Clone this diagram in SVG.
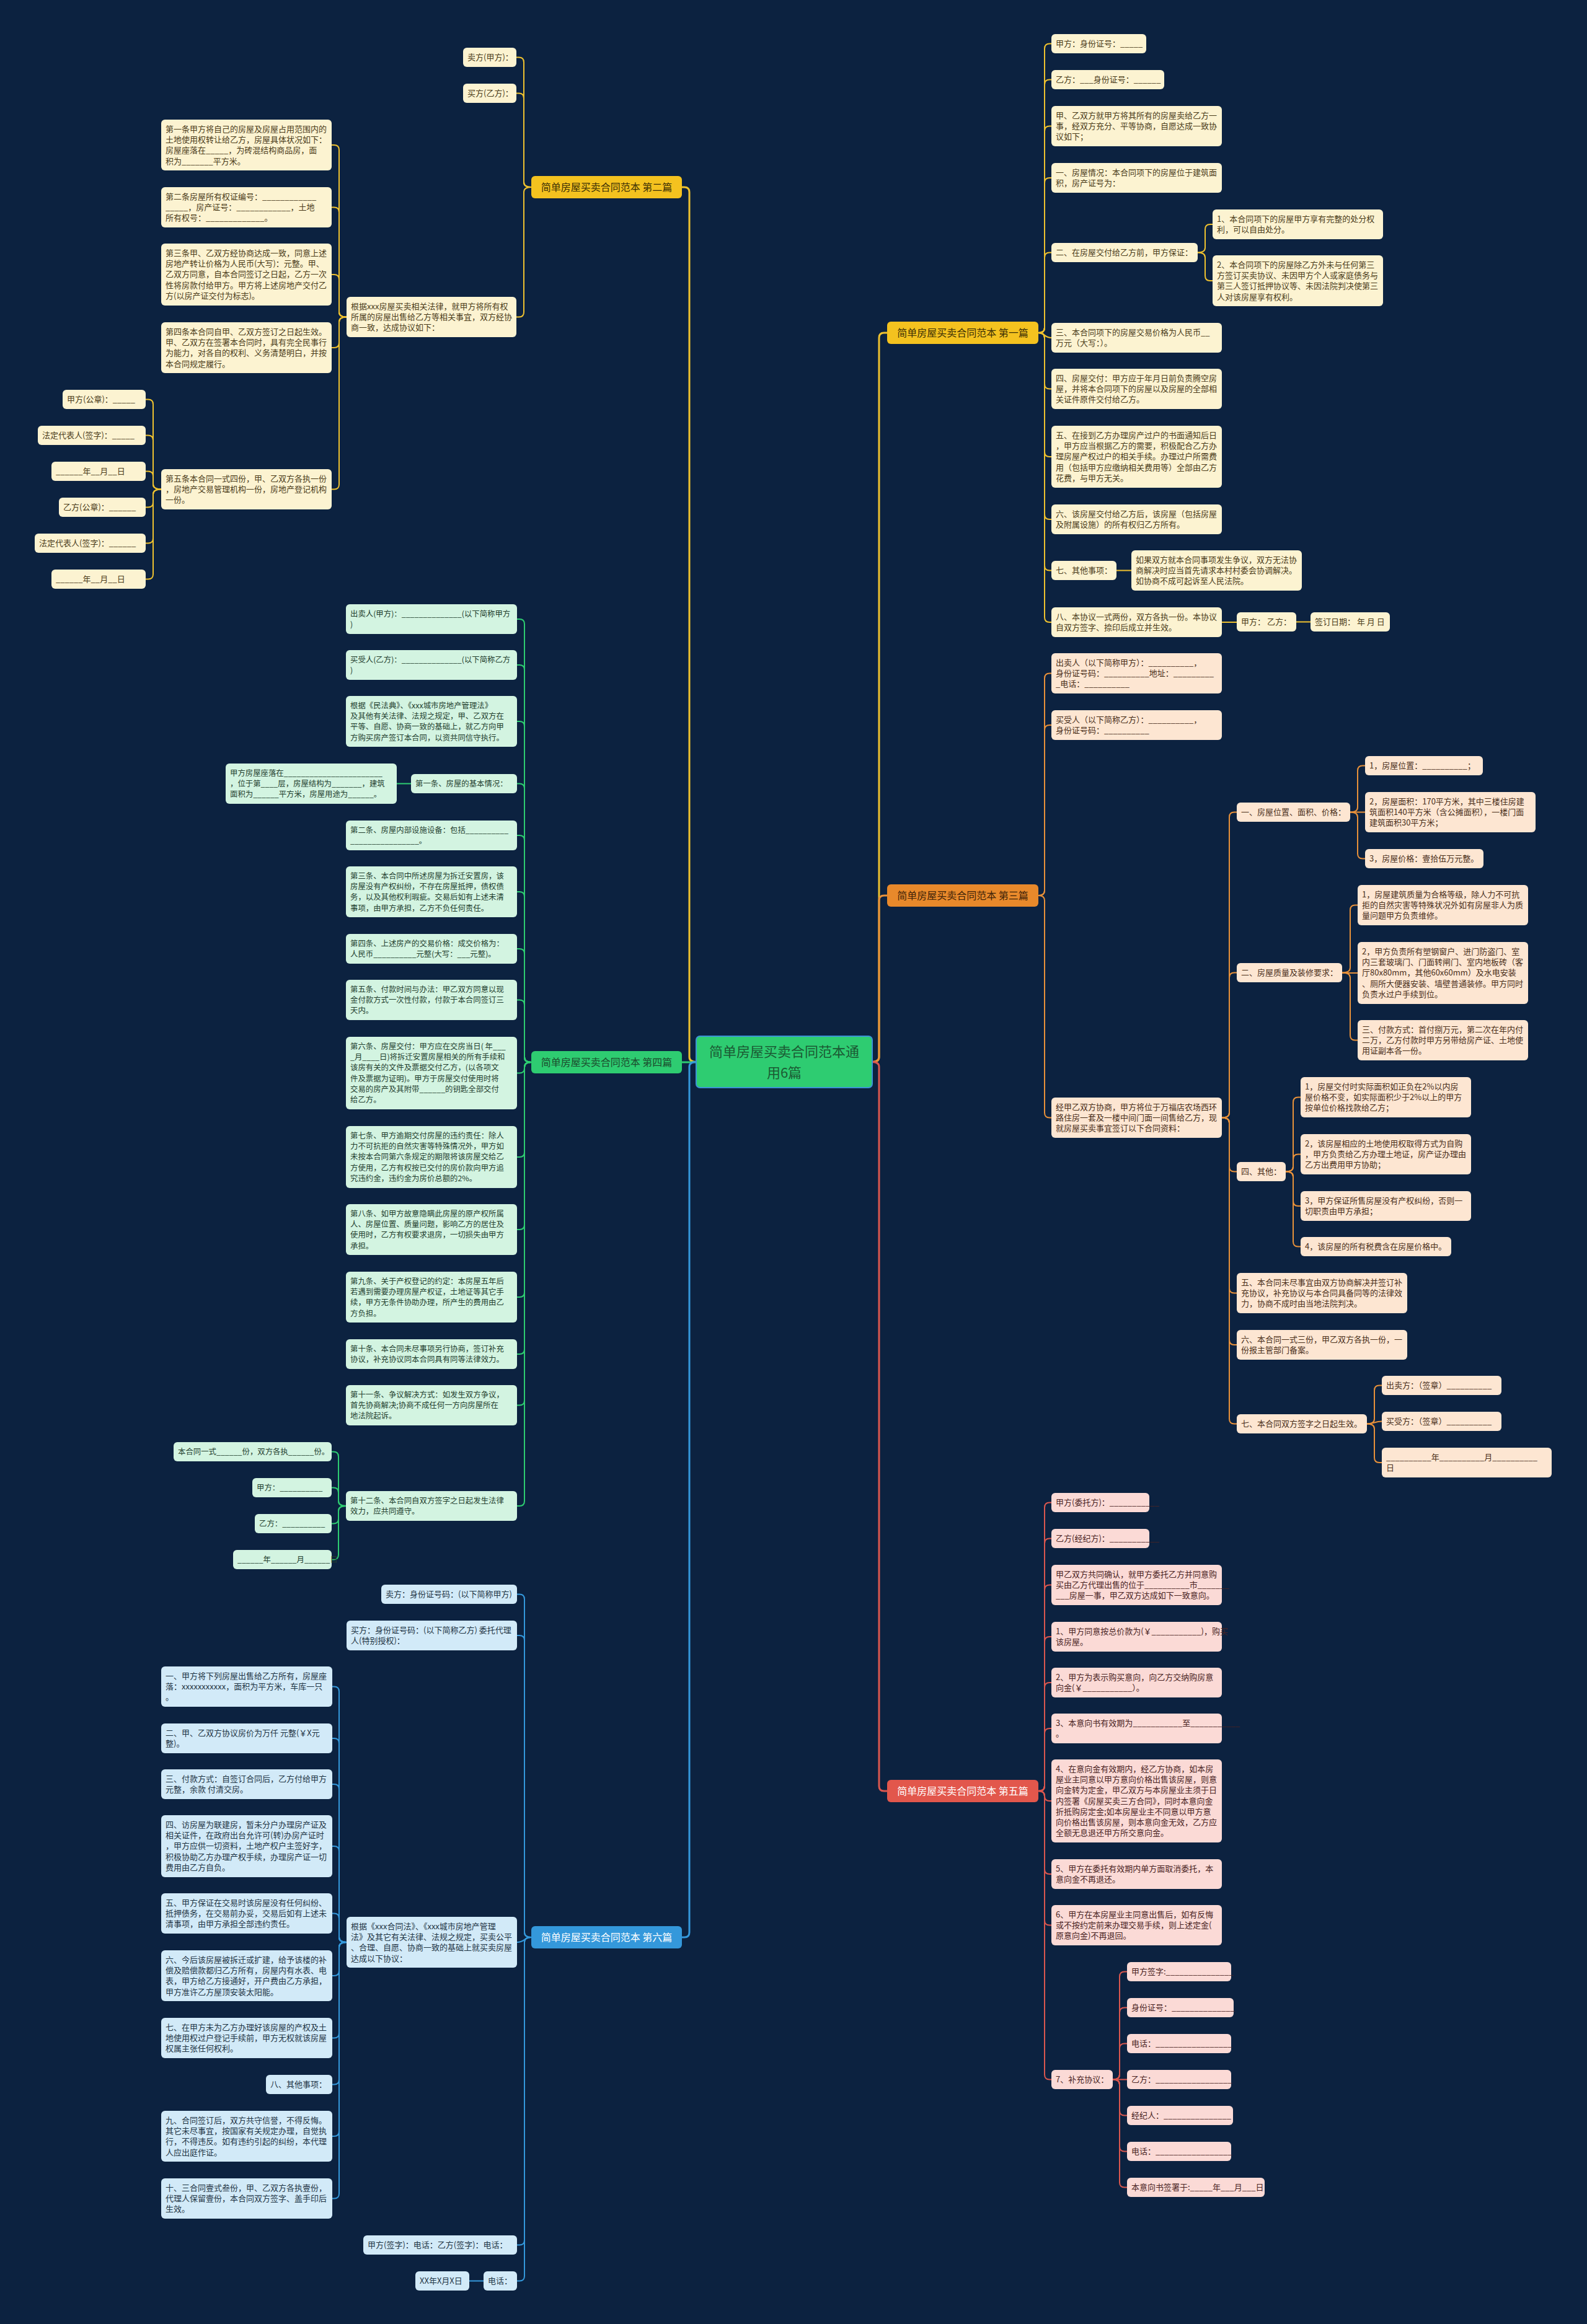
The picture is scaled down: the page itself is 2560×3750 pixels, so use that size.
<svg xmlns="http://www.w3.org/2000/svg" width="2560" height="3750" viewBox="0 0 2560 3750">
<style>
text{font-family:"Noto Sans CJK SC","Noto Sans",sans-serif;font-size:13px}
rect{rx:6px;ry:6px}
.y rect{fill:#fcf3d1}.y text{fill:#4b3c1a}
.o rect{fill:#fde6d2}.o text{fill:#4a2f1a}
.g rect{fill:#d3f4e1}.g text{fill:#24402f;font-size:12.4px}
.r rect{fill:#fbdad6}.r text{fill:#4a2424}
.b rect{fill:#d2eaf8}.b text{fill:#1f3545}
.br text{font-size:16px;text-anchor:middle}
#root text{font-size:22px;text-anchor:middle;fill:#1b5a33}
.c path{fill:none;stroke-width:2}
.c .m{stroke-width:3}
.cy{stroke:#eec12f}.co{stroke:#e8913a}.cg{stroke:#2ecc71}.cr{stroke:#d9574f}.cb{stroke:#3498db}
</style>
<rect x="0" y="0" width="2560" height="3750" fill="#0c2240" style="rx:0;ry:0"/>

<g id="connectors" class="c">
<path class="m cy" d="M1123 1713.5 Q1112 1713.5 1112 1705.5 V310 Q1112 302 1104 302 H1100"/>
<path class="m cg" d="M1123 1714 H1100"/>
<path class="m cb" d="M1123 1713.5 Q1112 1713.5 1112 1721.5 V3118 Q1112 3126 1104 3126 H1100"/>
<path class="m cy" d="M1407 1713.5 Q1418 1713.5 1418 1705.5 V545 Q1418 537 1426 537 H1431"/>
<path class="m co" d="M1407 1713.5 Q1418 1713.5 1418 1705.5 V1453 Q1418 1445 1426 1445 H1431"/>
<path class="m cr" d="M1407 1713.5 Q1418 1713.5 1418 1721.5 V2882 Q1418 2890 1426 2890 H1431"/>
<path class="cy" d="M1675 537 Q1685 537 1685 529 V78.5 Q1685 70.5 1693 70.5 H1696"/>
<path class="cy" d="M1675 537 Q1685 537 1685 529 V136.5 Q1685 128.5 1693 128.5 H1696"/>
<path class="cy" d="M1675 537 Q1685 537 1685 529 V211.5 Q1685 203.5 1693 203.5 H1696"/>
<path class="cy" d="M1675 537 Q1685 537 1685 529 V295 Q1685 287 1693 287 H1696"/>
<path class="cy" d="M1675 537 Q1685 537 1685 529 V415.5 Q1685 407.5 1693 407.5 H1696"/>
<path class="cy" d="M1675 537 C1685 537 1685 545 1696 545"/>
<path class="cy" d="M1675 537 Q1685 537 1685 545 V619.5 Q1685 627.5 1693 627.5 H1696"/>
<path class="cy" d="M1675 537 Q1685 537 1685 545 V729 Q1685 737 1693 737 H1696"/>
<path class="cy" d="M1675 537 Q1685 537 1685 545 V830 Q1685 838 1693 838 H1696"/>
<path class="cy" d="M1675 537 Q1685 537 1685 545 V912.5 Q1685 920.5 1693 920.5 H1696"/>
<path class="cy" d="M1675 537 Q1685 537 1685 545 V996 Q1685 1004 1693 1004 H1696"/>
<path class="cy" d="M1932 407.5 Q1944 407.5 1944 399.5 V370 Q1944 362 1952 362 H1956"/>
<path class="cy" d="M1932 407.5 Q1944 407.5 1944 415.5 V445 Q1944 453 1952 453 H1956"/>
<path class="cy" d="M1801 920.5 H1825"/>
<path class="cy" d="M1971 1004 H1995"/>
<path class="cy" d="M2091 1003.5 H2114"/>
<path class="cy" d="M857 302 Q845 302 845 294 V100.5 Q845 92.5 837 92.5 H833"/>
<path class="cy" d="M857 302 Q845 302 845 294 V158.5 Q845 150.5 837 150.5 H833"/>
<path class="cy" d="M857 302 Q845 302 845 310 V503.5 Q845 511.5 837 511.5 H833"/>
<path class="cy" d="M559 511.5 Q547 511.5 547 503.5 V242 Q547 234 539 234 H535"/>
<path class="cy" d="M559 511.5 Q547 511.5 547 503.5 V342.5 Q547 334.5 539 334.5 H535"/>
<path class="cy" d="M559 511.5 Q547 511.5 547 503.5 V451 Q547 443 539 443 H535"/>
<path class="cy" d="M559 511.5 Q547 511.5 547 519.5 V553 Q547 561 539 561 H535"/>
<path class="cy" d="M559 511.5 Q547 511.5 547 519.5 V781.5 Q547 789.5 539 789.5 H535"/>
<path class="cy" d="M260 789.5 Q247 789.5 247 781.5 V652.5 Q247 644.5 239 644.5 H235"/>
<path class="cy" d="M260 789.5 Q247 789.5 247 781.5 V710.5 Q247 702.5 239 702.5 H235"/>
<path class="cy" d="M260 789.5 Q247 789.5 247 781.5 V768.5 Q247 760.5 239 760.5 H235"/>
<path class="cy" d="M260 789.5 Q247 789.5 247 797.5 V810.5 Q247 818.5 239 818.5 H235"/>
<path class="cy" d="M260 789.5 Q247 789.5 247 797.5 V868.5 Q247 876.5 239 876.5 H235"/>
<path class="cy" d="M260 789.5 Q247 789.5 247 797.5 V926.5 Q247 934.5 239 934.5 H235"/>
<path class="co" d="M1675 1445 Q1685 1445 1685 1437 V1094.5 Q1685 1086.5 1693 1086.5 H1696"/>
<path class="co" d="M1675 1445 Q1685 1445 1685 1437 V1178 Q1685 1170 1693 1170 H1696"/>
<path class="co" d="M1675 1445 Q1685 1445 1685 1453 V1795.5 Q1685 1803.5 1693 1803.5 H1696"/>
<path class="co" d="M1971 1803.5 Q1983 1803.5 1983 1795.5 V1318.5 Q1983 1310.5 1991 1310.5 H1995"/>
<path class="co" d="M1971 1803.5 Q1983 1803.5 1983 1795.5 V1577.5 Q1983 1569.5 1991 1569.5 H1995"/>
<path class="co" d="M1971 1803.5 Q1983 1803.5 1983 1811.5 V1882.5 Q1983 1890.5 1991 1890.5 H1995"/>
<path class="co" d="M1971 1803.5 Q1983 1803.5 1983 1811.5 V2078.5 Q1983 2086.5 1991 2086.5 H1995"/>
<path class="co" d="M1971 1803.5 Q1983 1803.5 1983 1811.5 V2162 Q1983 2170 1991 2170 H1995"/>
<path class="co" d="M1971 1803.5 Q1983 1803.5 1983 1811.5 V2289.5 Q1983 2297.5 1991 2297.5 H1995"/>
<path class="co" d="M2178 1310.5 Q2190 1310.5 2190 1302.5 V1243.5 Q2190 1235.5 2198 1235.5 H2202"/>
<path class="co" d="M2178 1310.5 H2202"/>
<path class="co" d="M2178 1310.5 Q2190 1310.5 2190 1318.5 V1377.5 Q2190 1385.5 2198 1385.5 H2202"/>
<path class="co" d="M2165 1569.5 Q2178 1569.5 2178 1561.5 V1468.5 Q2178 1460.5 2186 1460.5 H2190"/>
<path class="co" d="M2165 1570 H2190"/>
<path class="co" d="M2165 1569.5 Q2178 1569.5 2178 1577.5 V1670.5 Q2178 1678.5 2186 1678.5 H2190"/>
<path class="co" d="M2074 1890.5 Q2086 1890.5 2086 1882.5 V1778.5 Q2086 1770.5 2094 1770.5 H2098"/>
<path class="co" d="M2074 1890.5 Q2086 1890.5 2086 1882.5 V1870.5 Q2086 1862.5 2094 1862.5 H2098"/>
<path class="co" d="M2074 1890.5 Q2086 1890.5 2086 1898.5 V1938 Q2086 1946 2094 1946 H2098"/>
<path class="co" d="M2074 1890.5 Q2086 1890.5 2086 1898.5 V2003.5 Q2086 2011.5 2094 2011.5 H2098"/>
<path class="co" d="M2205 2297.5 Q2217 2297.5 2217 2289.5 V2243.5 Q2217 2235.5 2225 2235.5 H2229"/>
<path class="co" d="M2205 2297.5 C2217 2297.5 2217 2293.5 2229 2293.5"/>
<path class="co" d="M2205 2297.5 Q2217 2297.5 2217 2305.5 V2352 Q2217 2360 2225 2360 H2229"/>
<path class="cg" d="M857 1714 Q846 1714 846 1706 V1007 Q846 999 838 999 H834"/>
<path class="cg" d="M857 1714 Q846 1714 846 1706 V1081 Q846 1073 838 1073 H834"/>
<path class="cg" d="M857 1714 Q846 1714 846 1706 V1172 Q846 1164 838 1164 H834"/>
<path class="cg" d="M857 1714 Q846 1714 846 1706 V1272.5 Q846 1264.5 838 1264.5 H834"/>
<path class="cg" d="M857 1714 Q846 1714 846 1706 V1356 Q846 1348 838 1348 H834"/>
<path class="cg" d="M857 1714 Q846 1714 846 1706 V1447 Q846 1439 838 1439 H834"/>
<path class="cg" d="M857 1714 Q846 1714 846 1706 V1539 Q846 1531 838 1531 H834"/>
<path class="cg" d="M857 1714 Q846 1714 846 1706 V1621.5 Q846 1613.5 838 1613.5 H834"/>
<path class="cg" d="M857 1714 Q846 1714 846 1722 V1723.5 Q846 1731.5 838 1731.5 H834"/>
<path class="cg" d="M857 1714 Q846 1714 846 1722 V1859 Q846 1867 838 1867 H834"/>
<path class="cg" d="M857 1714 Q846 1714 846 1722 V1976 Q846 1984 838 1984 H834"/>
<path class="cg" d="M857 1714 Q846 1714 846 1722 V2085 Q846 2093 838 2093 H834"/>
<path class="cg" d="M857 1714 Q846 1714 846 1722 V2177 Q846 2185 838 2185 H834"/>
<path class="cg" d="M857 1714 Q846 1714 846 1722 V2259.5 Q846 2267.5 838 2267.5 H834"/>
<path class="cg" d="M857 1714 Q846 1714 846 1722 V2422 Q846 2430 838 2430 H834"/>
<path class="cg" d="M663 1264.5 H640"/>
<path class="cg" d="M558 2430 Q546 2430 546 2422 V2350.5 Q546 2342.5 538 2342.5 H535"/>
<path class="cg" d="M558 2430 Q546 2430 546 2422 V2408.5 Q546 2400.5 538 2400.5 H535"/>
<path class="cg" d="M558 2430 Q546 2430 546 2438 V2450.5 Q546 2458.5 538 2458.5 H535"/>
<path class="cg" d="M558 2430 Q546 2430 546 2438 V2508.5 Q546 2516.5 538 2516.5 H535"/>
<path class="cr" d="M1675 2890 Q1685 2890 1685 2882 V2432.5 Q1685 2424.5 1693 2424.5 H1696"/>
<path class="cr" d="M1675 2890 Q1685 2890 1685 2882 V2490.5 Q1685 2482.5 1693 2482.5 H1696"/>
<path class="cr" d="M1675 2890 Q1685 2890 1685 2882 V2565.5 Q1685 2557.5 1693 2557.5 H1696"/>
<path class="cr" d="M1675 2890 Q1685 2890 1685 2882 V2649 Q1685 2641 1693 2641 H1696"/>
<path class="cr" d="M1675 2890 Q1685 2890 1685 2882 V2723 Q1685 2715 1693 2715 H1696"/>
<path class="cr" d="M1675 2890 Q1685 2890 1685 2882 V2797 Q1685 2789 1693 2789 H1696"/>
<path class="cr" d="M1675 2890 Q1685 2890 1685 2898 Q1685 2906 1693 2906 H1696"/>
<path class="cr" d="M1675 2890 Q1685 2890 1685 2898 V3016 Q1685 3024 1693 3024 H1696"/>
<path class="cr" d="M1675 2890 Q1685 2890 1685 2898 V3098.5 Q1685 3106.5 1693 3106.5 H1696"/>
<path class="cr" d="M1675 2890 Q1685 2890 1685 2898 V3347.5 Q1685 3355.5 1693 3355.5 H1696"/>
<path class="cr" d="M1795 3355.5 Q1806 3355.5 1806 3347.5 V3189.5 Q1806 3181.5 1814 3181.5 H1818"/>
<path class="cr" d="M1795 3355.5 Q1806 3355.5 1806 3347.5 V3247.5 Q1806 3239.5 1814 3239.5 H1818"/>
<path class="cr" d="M1795 3355.5 Q1806 3355.5 1806 3347.5 V3305.5 Q1806 3297.5 1814 3297.5 H1818"/>
<path class="cr" d="M1795 3355.5 H1818"/>
<path class="cr" d="M1795 3355.5 Q1806 3355.5 1806 3363.5 V3405.5 Q1806 3413.5 1814 3413.5 H1818"/>
<path class="cr" d="M1795 3355.5 Q1806 3355.5 1806 3363.5 V3463.5 Q1806 3471.5 1814 3471.5 H1818"/>
<path class="cr" d="M1795 3355.5 Q1806 3355.5 1806 3363.5 V3521.5 Q1806 3529.5 1814 3529.5 H1818"/>
<path class="cb" d="M857 3126 Q846 3126 846 3118 V2580.5 Q846 2572.5 838 2572.5 H834"/>
<path class="cb" d="M857 3126 Q846 3126 846 3118 V2647 Q846 2639 838 2639 H834"/>
<path class="cb" d="M857 3126 C846 3126 846 3134 834 3134"/>
<path class="cb" d="M857 3126 Q846 3126 846 3134 V3614.5 Q846 3622.5 838 3622.5 H834"/>
<path class="cb" d="M857 3126 Q846 3126 846 3134 V3672.5 Q846 3680.5 838 3680.5 H834"/>
<path class="cb" d="M559 3134 Q547 3134 547 3126 V2729.5 Q547 2721.5 539 2721.5 H536"/>
<path class="cb" d="M559 3134 Q547 3134 547 3126 V2813 Q547 2805 539 2805 H536"/>
<path class="cb" d="M559 3134 Q547 3134 547 3126 V2887 Q547 2879 539 2879 H536"/>
<path class="cb" d="M559 3134 Q547 3134 547 3126 V2987 Q547 2979 539 2979 H536"/>
<path class="cb" d="M559 3134 Q547 3134 547 3126 V3095.5 Q547 3087.5 539 3087.5 H536"/>
<path class="cb" d="M559 3134 Q547 3134 547 3142 V3180 Q547 3188 539 3188 H536"/>
<path class="cb" d="M559 3134 Q547 3134 547 3142 V3280.5 Q547 3288.5 539 3288.5 H536"/>
<path class="cb" d="M559 3134 Q547 3134 547 3142 V3355.5 Q547 3363.5 539 3363.5 H536"/>
<path class="cb" d="M559 3134 Q547 3134 547 3142 V3439 Q547 3447 539 3447 H536"/>
<path class="cb" d="M559 3134 Q547 3134 547 3142 V3539.5 Q547 3547.5 539 3547.5 H536"/>
<path class="cb" d="M780 3680.5 H757"/>
</g>

<g id="root">
<rect x="1123" y="1672" width="284" height="83" fill="#2ecc71" stroke="#3b94d6" stroke-width="2"/>
<text x="1265" y="1705">简单房屋买卖合同范本通</text>
<text x="1265" y="1739">用6篇</text>
</g>

<g id="b1" class="br"><rect x="1431" y="519" width="244" height="36" fill="#f4c21f"/><text x="1553" y="543" fill="#3b2f05">简单房屋买卖合同范本 第一篇</text></g>
<g id="b2" class="br"><rect x="857" y="284" width="243" height="36" fill="#f4c21f"/><text x="978.5" y="308" fill="#3b2f05">简单房屋买卖合同范本 第二篇</text></g>
<g id="b3" class="br"><rect x="1431" y="1427" width="244" height="36" fill="#e8892b"/><text x="1553" y="1451" fill="#3d2208">简单房屋买卖合同范本 第三篇</text></g>
<g id="b4" class="br"><rect x="857" y="1696" width="243" height="36" fill="#2ecc71"/><text x="978.5" y="1720" fill="#1b4a2c">简单房屋买卖合同范本 第四篇</text></g>
<g id="b5" class="br"><rect x="1431" y="2872" width="244" height="36" fill="#e2574c"/><text x="1553" y="2896" fill="#ffffff">简单房屋买卖合同范本 第五篇</text></g>
<g id="b6" class="br"><rect x="857" y="3108" width="243" height="36" fill="#3498db"/><text x="978.5" y="3132" fill="#ffffff">简单房屋买卖合同范本 第六篇</text></g>

<g id="n1-1" class="y"><rect x="1696" y="55" width="153" height="31"/><text x="1703" y="75">甲方：身份证号：_____</text></g>
<g id="n1-2" class="y"><rect x="1696" y="113" width="182" height="31"/><text x="1703" y="133">乙方：___身份证号：______</text></g>
<g id="n1-3" class="y"><rect x="1696" y="171" width="275" height="65"/><text x="1703" y="191">甲、乙双方就甲方将其所有的房屋卖给乙方一</text><text x="1703" y="208">事，经双方充分、平等协商，自愿达成一致协</text><text x="1703" y="225">议如下；</text></g>
<g id="n1-4" class="y"><rect x="1696" y="263" width="275" height="48"/><text x="1703" y="283">一、房屋情况：本合同项下的房屋位于建筑面</text><text x="1703" y="300">积，房产证号为：</text></g>
<g id="n1-5" class="y"><rect x="1696" y="392" width="236" height="31"/><text x="1703" y="412">二、在房屋交付给乙方前，甲方保证：</text></g>
<g id="n1-5-1" class="y"><rect x="1956" y="338" width="275" height="48"/><text x="1963" y="358">1、本合同项下的房屋甲方享有完整的处分权</text><text x="1963" y="375">利，可以自由处分。</text></g>
<g id="n1-5-2" class="y"><rect x="1956" y="412" width="275" height="82"/><text x="1963" y="432">2、本合同项下的房屋除乙方外未与任何第三</text><text x="1963" y="449">方签订买卖协议、未因甲方个人或家庭债务与</text><text x="1963" y="466">第三人签订抵押协议等、未因法院判决使第三</text><text x="1963" y="484">人对该房屋享有权利。</text></g>
<g id="n1-6" class="y"><rect x="1696" y="521" width="275" height="48"/><text x="1703" y="541">三、本合同项下的房屋交易价格为人民币__</text><text x="1703" y="558">万元（大写：）。</text></g>
<g id="n1-7" class="y"><rect x="1696" y="595" width="275" height="65"/><text x="1703" y="615">四、房屋交付：甲方应于年月日前负责腾空房</text><text x="1703" y="632">屋，并将本合同项下的房屋以及房屋的全部相</text><text x="1703" y="649">关证件原件交付给乙方。</text></g>
<g id="n1-8" class="y"><rect x="1696" y="687" width="275" height="100"/><text x="1703" y="707">五、在接到乙方办理房产过户的书面通知后日</text><text x="1703" y="724">，甲方应当根据乙方的需要，积极配合乙方办</text><text x="1703" y="741">理房屋产权过户的相关手续。办理过户所需费</text><text x="1703" y="759">用（包括甲方应缴纳相关费用等）全部由乙方</text><text x="1703" y="776">花费，与甲方无关。</text></g>
<g id="n1-9" class="y"><rect x="1696" y="814" width="275" height="48"/><text x="1703" y="834">六、该房屋交付给乙方后，该房屋（包括房屋</text><text x="1703" y="851">及附属设施）的所有权归乙方所有。</text></g>
<g id="n1-10" class="y"><rect x="1696" y="905" width="105" height="31"/><text x="1703" y="925">七、其他事项：</text></g>
<g id="n1-10-1" class="y"><rect x="1825" y="888" width="275" height="65"/><text x="1832" y="908">如果双方就本合同事项发生争议，双方无法协</text><text x="1832" y="925">商解决时应当首先请求本村村委会协调解决。</text><text x="1832" y="942">如协商不成可起诉至人民法院。</text></g>
<g id="n1-11" class="y"><rect x="1696" y="980" width="275" height="48"/><text x="1703" y="1000">八、本协议一式两份，双方各执一份。本协议</text><text x="1703" y="1017">自双方签字、捺印后成立并生效。</text></g>
<g id="n1-11-1" class="y"><rect x="1995" y="988" width="96" height="31"/><text x="2002" y="1008">甲方： 乙方：</text></g>
<g id="n1-11-2" class="y"><rect x="2114" y="988" width="128" height="31"/><text x="2121" y="1008">签订日期： 年 月 日</text></g>

<g id="n2-1" class="y"><rect x="747" y="77" width="86" height="31"/><text x="754" y="97">卖方(甲方)：</text></g>
<g id="n2-2" class="y"><rect x="747" y="135" width="86" height="31"/><text x="754" y="155">买方(乙方)：</text></g>
<g id="n2-3" class="y"><rect x="559" y="479" width="274" height="65"/><text x="566" y="499">根据xxx房屋买卖相关法律，就甲方将所有权</text><text x="566" y="516">所属的房屋出售给乙方等相关事宜，双方经协</text><text x="566" y="533">商一致，达成协议如下：</text></g>
<g id="n2-3-1" class="y"><rect x="260" y="193" width="275" height="82"/><text x="267" y="213">第一条甲方将自己的房屋及房屋占用范围内的</text><text x="267" y="230">土地使用权转让给乙方，房屋具体状况如下：</text><text x="267" y="247">房屋座落在_____，为砖混结构商品房，面</text><text x="267" y="265">积为_______平方米。</text></g>
<g id="n2-3-2" class="y"><rect x="260" y="302" width="275" height="65"/><text x="267" y="322">第二条房屋所有权证编号：____________</text><text x="267" y="339">_____，房产证号：____________，土地</text><text x="267" y="356">所有权号：_____________。</text></g>
<g id="n2-3-3" class="y"><rect x="260" y="393" width="275" height="100"/><text x="267" y="413">第三条甲、乙双方经协商达成一致，同意上述</text><text x="267" y="430">房地产转让价格为人民币(大写)：元整。甲、</text><text x="267" y="447">乙双方同意，自本合同签订之日起，乙方一次</text><text x="267" y="465">性将房款付给甲方。甲方将上述房地产交付乙</text><text x="267" y="482">方(以房产证交付为标志)。</text></g>
<g id="n2-3-4" class="y"><rect x="260" y="520" width="275" height="82"/><text x="267" y="540">第四条本合同自甲、乙双方签订之日起生效。</text><text x="267" y="557">甲、乙双方在签署本合同时，具有完全民事行</text><text x="267" y="574">为能力，对各自的权利、义务清楚明白，并按</text><text x="267" y="592">本合同规定履行。</text></g>
<g id="n2-3-5" class="y"><rect x="260" y="757" width="275" height="65"/><text x="267" y="777">第五条本合同一式四份，甲、乙双方各执一份</text><text x="267" y="794">，房地产交易管理机构一份，房地产登记机构</text><text x="267" y="811">一份。</text></g>
<g id="n2-3-5-1" class="y"><rect x="101" y="629" width="134" height="31"/><text x="108" y="649">甲方(公章)：_____</text></g>
<g id="n2-3-5-2" class="y"><rect x="61" y="687" width="174" height="31"/><text x="68" y="707">法定代表人(签字)：_____</text></g>
<g id="n2-3-5-3" class="y"><rect x="83" y="745" width="152" height="31"/><text x="90" y="765">______年__月__日</text></g>
<g id="n2-3-5-4" class="y"><rect x="95" y="803" width="140" height="31"/><text x="102" y="823">乙方(公章)：______</text></g>
<g id="n2-3-5-5" class="y"><rect x="56" y="861" width="179" height="31"/><text x="63" y="881">法定代表人(签字)：______</text></g>
<g id="n2-3-5-6" class="y"><rect x="83" y="919" width="152" height="31"/><text x="90" y="939">______年__月__日</text></g>

<g id="n3-1" class="o"><rect x="1696" y="1054" width="275" height="65"/><text x="1703" y="1074">出卖人（以下简称甲方）：__________，</text><text x="1703" y="1091">身份证号码：__________地址：_________</text><text x="1703" y="1108">_电话：__________</text></g>
<g id="n3-2" class="o"><rect x="1696" y="1146" width="275" height="48"/><text x="1703" y="1166">买受人（以下简称乙方）：__________，</text><text x="1703" y="1183">身份证号码：__________</text></g>
<g id="n3-3" class="o"><rect x="1696" y="1771" width="275" height="65"/><text x="1703" y="1791">经甲乙双方协商，甲方将位于万福店农场西环</text><text x="1703" y="1808">路住房一套及一楼中间门面一间售给乙方，现</text><text x="1703" y="1825">就房屋买卖事宜签订以下合同资料：</text></g>
<g id="n3-3-1" class="o"><rect x="1995" y="1295" width="183" height="31"/><text x="2002" y="1315">一、房屋位置、面积、价格：</text></g>
<g id="n3-3-1-1" class="o"><rect x="2202" y="1220" width="190" height="31"/><text x="2209" y="1240">1，房屋位置：__________；</text></g>
<g id="n3-3-1-2" class="o"><rect x="2202" y="1278" width="275" height="65"/><text x="2209" y="1298">2，房屋面积：170平方米，其中三楼住房建</text><text x="2209" y="1315">筑面积140平方米（含公摊面积），一楼门面</text><text x="2209" y="1332">建筑面积30平方米；</text></g>
<g id="n3-3-1-3" class="o"><rect x="2202" y="1370" width="191" height="31"/><text x="2209" y="1390">3，房屋价格：壹拾伍万元整。</text></g>
<g id="n3-3-2" class="o"><rect x="1995" y="1554" width="170" height="31"/><text x="2002" y="1574">二、房屋质量及装修要求：</text></g>
<g id="n3-3-2-1" class="o"><rect x="2190" y="1428" width="275" height="65"/><text x="2197" y="1448">1，房屋建筑质量为合格等级，除人力不可抗</text><text x="2197" y="1465">拒的自然灾害等特殊状况外如有房屋非人为质</text><text x="2197" y="1482">量问题甲方负责维修。</text></g>
<g id="n3-3-2-2" class="o"><rect x="2190" y="1520" width="275" height="100"/><text x="2197" y="1540">2，甲方负责所有塑钢窗户、进门防盗门、室</text><text x="2197" y="1557">内三套玻璃门、门面转闸门、室内地板砖（客</text><text x="2197" y="1574">厅80x80mm，其他60x60mm）及水电安装</text><text x="2197" y="1592">、厕所大便器安装、墙壁普通装修。甲方同时</text><text x="2197" y="1609">负责水过户手续到位。</text></g>
<g id="n3-3-2-3" class="o"><rect x="2190" y="1646" width="275" height="65"/><text x="2197" y="1666">三、付款方式：首付捌万元，第二次在年内付</text><text x="2197" y="1683">二万，乙方付款时甲方另带给房产证、土地使</text><text x="2197" y="1700">用证副本各一份。</text></g>
<g id="n3-3-3" class="o"><rect x="1995" y="1875" width="79" height="31"/><text x="2002" y="1895">四、其他：</text></g>
<g id="n3-3-3-1" class="o"><rect x="2098" y="1738" width="275" height="65"/><text x="2105" y="1758">1，房屋交付时实际面积如正负在2%以内房</text><text x="2105" y="1775">屋价格不变，如实际面积少于2%以上的甲方</text><text x="2105" y="1792">按单位价格找款给乙方；</text></g>
<g id="n3-3-3-2" class="o"><rect x="2098" y="1830" width="275" height="65"/><text x="2105" y="1850">2，该房屋相应的土地使用权取得方式为自购</text><text x="2105" y="1867">，甲方负责给乙方办理土地证，房产证办理由</text><text x="2105" y="1884">乙方出费用甲方协助；</text></g>
<g id="n3-3-3-3" class="o"><rect x="2098" y="1922" width="275" height="48"/><text x="2105" y="1942">3，甲方保证所售房屋没有产权纠纷，否则一</text><text x="2105" y="1959">切职责由甲方承担；</text></g>
<g id="n3-3-3-4" class="o"><rect x="2098" y="1996" width="243" height="31"/><text x="2105" y="2016">4，该房屋的所有税费含在房屋价格中。</text></g>
<g id="n3-3-4" class="o"><rect x="1995" y="2054" width="275" height="65"/><text x="2002" y="2074">五、本合同未尽事宜由双方协商解决并签订补</text><text x="2002" y="2091">充协议，补充协议与本合同具备同等的法律效</text><text x="2002" y="2108">力，协商不成时由当地法院判决。</text></g>
<g id="n3-3-5" class="o"><rect x="1995" y="2146" width="275" height="48"/><text x="2002" y="2166">六、本合同一式三份，甲乙双方各执一份，一</text><text x="2002" y="2183">份报主管部门备案。</text></g>
<g id="n3-3-6" class="o"><rect x="1995" y="2282" width="210" height="31"/><text x="2002" y="2302">七、本合同双方签字之日起生效。</text></g>
<g id="n3-3-6-1" class="o"><rect x="2229" y="2220" width="193" height="31"/><text x="2236" y="2240">出卖方：（签章）__________</text></g>
<g id="n3-3-6-2" class="o"><rect x="2229" y="2278" width="193" height="31"/><text x="2236" y="2298">买受方：（签章）__________</text></g>
<g id="n3-3-6-3" class="o"><rect x="2229" y="2336" width="274" height="48"/><text x="2236" y="2356">__________年__________月__________</text><text x="2236" y="2373">日</text></g>

<g id="n4-1" class="g"><rect x="558" y="975" width="276" height="48"/><text x="565" y="995">出卖人(甲方)：______________(以下简称甲方</text><text x="565" y="1012">)</text></g>
<g id="n4-2" class="g"><rect x="558" y="1049" width="276" height="48"/><text x="565" y="1069">买受人(乙方)：______________(以下简称乙方</text><text x="565" y="1086">)</text></g>
<g id="n4-3" class="g"><rect x="558" y="1123" width="276" height="82"/><text x="565" y="1143">根据《民法典》、《xxx城市房地产管理法》</text><text x="565" y="1160">及其他有关法律、法规之规定，甲、乙双方在</text><text x="565" y="1177">平等、自愿、协商一致的基础上，就乙方向甲</text><text x="565" y="1195">方购买房产签订本合同，以资共同信守执行。</text></g>
<g id="n4-4" class="g"><rect x="663" y="1249" width="171" height="31"/><text x="670" y="1269">第一条、房屋的基本情况：</text></g>
<g id="n4-4-1" class="g"><rect x="364" y="1232" width="276" height="65"/><text x="371" y="1252">甲方房屋座落在_______________________</text><text x="371" y="1269">，位于第____层，房屋结构为_______，建筑</text><text x="371" y="1286">面积为______平方米，房屋用途为______。</text></g>
<g id="n4-5" class="g"><rect x="558" y="1324" width="276" height="48"/><text x="565" y="1344">第二条、房屋内部设施设备：包括__________</text><text x="565" y="1361">________________。</text></g>
<g id="n4-6" class="g"><rect x="558" y="1398" width="276" height="82"/><text x="565" y="1418">第三条、本合同中所述房屋为拆迁安置房，该</text><text x="565" y="1435">房屋没有产权纠纷，不存在房屋抵押，债权债</text><text x="565" y="1452">务，以及其他权利瑕疵。交易后如有上述未清</text><text x="565" y="1470">事项，由甲方承担，乙方不负任何责任。</text></g>
<g id="n4-7" class="g"><rect x="558" y="1507" width="276" height="48"/><text x="565" y="1527">第四条、上述房产的交易价格：成交价格为：</text><text x="565" y="1544">人民币__________元整(大写：___元整)。</text></g>
<g id="n4-8" class="g"><rect x="558" y="1581" width="276" height="65"/><text x="565" y="1601">第五条、付款时间与办法：甲乙双方同意以现</text><text x="565" y="1618">金付款方式一次性付款，付款于本合同签订三</text><text x="565" y="1635">天内。</text></g>
<g id="n4-9" class="g"><rect x="558" y="1673" width="276" height="117"/><text x="565" y="1693">第六条、房屋交付：甲方应在交房当日( 年___</text><text x="565" y="1710">_月____日)将拆迁安置房屋相关的所有手续和</text><text x="565" y="1727">该房有关的文件及票据交付乙方，(以各项文</text><text x="565" y="1745">件及票据为证明)。甲方于房屋交付使用时将</text><text x="565" y="1762">交易的房产及其附带______的钥匙全部交付</text><text x="565" y="1779">给乙方。</text></g>
<g id="n4-10" class="g"><rect x="558" y="1817" width="276" height="100"/><text x="565" y="1837">第七条、甲方逾期交付房屋的违约责任：除人</text><text x="565" y="1854">力不可抗拒的自然灾害等特殊情况外，甲方如</text><text x="565" y="1871">未按本合同第六条规定的期限将该房屋交给乙</text><text x="565" y="1889">方使用，乙方有权按已交付的房价款向甲方追</text><text x="565" y="1906">究违约金，违约金为房价总额的2%。</text></g>
<g id="n4-11" class="g"><rect x="558" y="1943" width="276" height="82"/><text x="565" y="1963">第八条、如甲方故意隐瞒此房屋的原产权所属</text><text x="565" y="1980">人、房屋位置、质量问题，影响乙方的居住及</text><text x="565" y="1997">使用时，乙方有权要求退房，一切损失由甲方</text><text x="565" y="2015">承担。</text></g>
<g id="n4-12" class="g"><rect x="558" y="2052" width="276" height="82"/><text x="565" y="2072">第九条、关于产权登记的约定：本房屋五年后</text><text x="565" y="2089">若遇到需要办理房屋产权证，土地证等其它手</text><text x="565" y="2106">续，甲方无条件协助办理，所产生的费用由乙</text><text x="565" y="2124">方负担。</text></g>
<g id="n4-13" class="g"><rect x="558" y="2161" width="276" height="48"/><text x="565" y="2181">第十条、本合同未尽事项另行协商，签订补充</text><text x="565" y="2198">协议，补充协议同本合同具有同等法律效力。</text></g>
<g id="n4-14" class="g"><rect x="558" y="2235" width="276" height="65"/><text x="565" y="2255">第十一条、争议解决方式：如发生双方争议，</text><text x="565" y="2272">首先协商解决;协商不成任何一方向房屋所在</text><text x="565" y="2289">地法院起诉。</text></g>
<g id="n4-15" class="g"><rect x="558" y="2406" width="276" height="48"/><text x="565" y="2426">第十二条、本合同自双方签字之日起发生法律</text><text x="565" y="2443">效力，应共同遵守。</text></g>
<g id="n4-15-1" class="g"><rect x="280" y="2327" width="255" height="31"/><text x="287" y="2347">本合同一式______份，双方各执______份。</text></g>
<g id="n4-15-2" class="g"><rect x="407" y="2385" width="128" height="31"/><text x="414" y="2405">甲方：__________</text></g>
<g id="n4-15-3" class="g"><rect x="411" y="2443" width="124" height="31"/><text x="418" y="2463">乙方：__________</text></g>
<g id="n4-15-4" class="g"><rect x="376" y="2501" width="159" height="31"/><text x="383" y="2521">______年______月______日</text></g>

<g id="n5-1" class="r"><rect x="1696" y="2409" width="158" height="31"/><text x="1703" y="2429">甲方(委托方)：___________</text></g>
<g id="n5-2" class="r"><rect x="1696" y="2467" width="158" height="31"/><text x="1703" y="2487">乙方(经纪方)：___________</text></g>
<g id="n5-3" class="r"><rect x="1696" y="2525" width="275" height="65"/><text x="1703" y="2545">甲乙双方共同确认，就甲方委托乙方并同意购</text><text x="1703" y="2562">买由乙方代理出售的位于__________市_______</text><text x="1703" y="2579">___房屋一事，甲乙双方达成如下一致意向。</text></g>
<g id="n5-4" class="r"><rect x="1696" y="2617" width="275" height="48"/><text x="1703" y="2637">1、甲方同意按总价款为(￥___________)，购买</text><text x="1703" y="2654">该房屋。</text></g>
<g id="n5-5" class="r"><rect x="1696" y="2691" width="275" height="48"/><text x="1703" y="2711">2、甲方为表示购买意向，向乙方交纳购房意</text><text x="1703" y="2728">向金(￥___________）。</text></g>
<g id="n5-6" class="r"><rect x="1696" y="2765" width="275" height="48"/><text x="1703" y="2785">3、本意向书有效期为___________至___________</text><text x="1703" y="2802">。</text></g>
<g id="n5-7" class="r"><rect x="1696" y="2839" width="275" height="134"/><text x="1703" y="2859">4、在意向金有效期内，经乙方协商，如本房</text><text x="1703" y="2876">屋业主同意以甲方意向价格出售该房屋，则意</text><text x="1703" y="2893">向金转为定金，甲乙双方与本房屋业主须于日</text><text x="1703" y="2911">内签署《房屋买卖三方合同》，同时本意向金</text><text x="1703" y="2928">折抵购房定金;如本房屋业主不同意以甲方意</text><text x="1703" y="2945">向价格出售该房屋，则本意向金无效，乙方应</text><text x="1703" y="2962">全额无息退还甲方所交意向金。</text></g>
<g id="n5-8" class="r"><rect x="1696" y="3000" width="275" height="48"/><text x="1703" y="3020">5、甲方在委托有效期内单方面取消委托，本</text><text x="1703" y="3037">意向金不再退还。</text></g>
<g id="n5-9" class="r"><rect x="1696" y="3074" width="275" height="65"/><text x="1703" y="3094">6、甲方在本房屋业主同意出售后，如有反悔</text><text x="1703" y="3111">或不按约定前来办理交易手续，则上述定金(</text><text x="1703" y="3128">原意向金)不再退回。</text></g>
<g id="n5-10" class="r"><rect x="1696" y="3340" width="99" height="31"/><text x="1703" y="3360">7、补充协议：</text></g>
<g id="n5-10-1" class="r"><rect x="1818" y="3166" width="168" height="31"/><text x="1825" y="3186">甲方签字:_______________</text></g>
<g id="n5-10-2" class="r"><rect x="1818" y="3224" width="172" height="31"/><text x="1825" y="3244">身份证号：______________</text></g>
<g id="n5-10-3" class="r"><rect x="1818" y="3282" width="168" height="31"/><text x="1825" y="3302">电话：_________________</text></g>
<g id="n5-10-4" class="r"><rect x="1818" y="3340" width="168" height="31"/><text x="1825" y="3360">乙方：_________________</text></g>
<g id="n5-10-5" class="r"><rect x="1818" y="3398" width="171" height="31"/><text x="1825" y="3418">经纪人：_______________</text></g>
<g id="n5-10-6" class="r"><rect x="1818" y="3456" width="168" height="31"/><text x="1825" y="3476">电话：_________________</text></g>
<g id="n5-10-7" class="r"><rect x="1818" y="3514" width="222" height="31"/><text x="1825" y="3534">本意向书签署于:_____年___月___日</text></g>

<g id="n6-1" class="b"><rect x="615" y="2557" width="219" height="31"/><text x="622" y="2577">卖方：身份证号码：(以下简称甲方)</text></g>
<g id="n6-2" class="b"><rect x="559" y="2615" width="275" height="48"/><text x="566" y="2635">买方：身份证号码：(以下简称乙方) 委托代理</text><text x="566" y="2652">人(特别授权)：</text></g>
<g id="n6-3" class="b"><rect x="559" y="3093" width="275" height="82"/><text x="566" y="3113">根据《xxx合同法》、《xxx城市房地产管理</text><text x="566" y="3130">法》及其它有关法律、法规之规定，买卖公平</text><text x="566" y="3147">、合理、自愿、协商一致的基础上就买卖房屋</text><text x="566" y="3165">达成以下协议：</text></g>
<g id="n6-3-1" class="b"><rect x="260" y="2689" width="276" height="65"/><text x="267" y="2709">一、甲方将下列房屋出售给乙方所有，房屋座</text><text x="267" y="2726">落：xxxxxxxxxxx，面积为平方米，车库一只</text><text x="267" y="2743">。</text></g>
<g id="n6-3-2" class="b"><rect x="260" y="2781" width="276" height="48"/><text x="267" y="2801">二、甲、乙双方协议房价为万仟 元整(￥X元</text><text x="267" y="2818">整)。</text></g>
<g id="n6-3-3" class="b"><rect x="260" y="2855" width="276" height="48"/><text x="267" y="2875">三、付款方式：自签订合同后，乙方付给甲方</text><text x="267" y="2892"> 元整，余款 付清交房。</text></g>
<g id="n6-3-4" class="b"><rect x="260" y="2929" width="276" height="100"/><text x="267" y="2949">四、访房屋为联建房，暂未分户办理房产证及</text><text x="267" y="2966">相关证件，在政府出台允许可(转)办房产证时</text><text x="267" y="2983">，甲方应供一切资料，土地产权户主签好字，</text><text x="267" y="3001">积极协助乙方办理产权手续，办理房产证一切</text><text x="267" y="3018">费用由乙方自负。</text></g>
<g id="n6-3-5" class="b"><rect x="260" y="3055" width="276" height="65"/><text x="267" y="3075">五、甲方保证在交易时该房屋没有任何纠纷、</text><text x="267" y="3092">抵押债务，在交易前办妥，交易后如有上述未</text><text x="267" y="3109">清事项，由甲方承担全部违约责任。</text></g>
<g id="n6-3-6" class="b"><rect x="260" y="3147" width="276" height="82"/><text x="267" y="3167">六、今后该房屋被拆迁或扩建，给予该楼的补</text><text x="267" y="3184">偿及赔偿款都归乙方所有，房屋内有水表、电</text><text x="267" y="3201">表，甲方给乙方接通好，开户费由乙方承担，</text><text x="267" y="3219">甲方准许乙方屋顶安装太阳能。</text></g>
<g id="n6-3-7" class="b"><rect x="260" y="3256" width="276" height="65"/><text x="267" y="3276">七、在甲方未为乙方办理好该房屋的产权及土</text><text x="267" y="3293">地使用权过户登记手续前，甲方无权就该房屋</text><text x="267" y="3310">权属主张任何权利。</text></g>
<g id="n6-3-8" class="b"><rect x="429" y="3348" width="107" height="31"/><text x="436" y="3368">八、其他事项：</text></g>
<g id="n6-3-9" class="b"><rect x="260" y="3406" width="276" height="82"/><text x="267" y="3426">九、合同签订后，双方共守信誉，不得反悔。</text><text x="267" y="3443">其它未尽事宜，按国家有关规定办理，自觉执</text><text x="267" y="3460">行，不得违反。如有违约引起的纠纷，本代理</text><text x="267" y="3478">人应出庭作证。</text></g>
<g id="n6-3-10" class="b"><rect x="260" y="3515" width="276" height="65"/><text x="267" y="3535">十、三合同壹式叁份，甲、乙双方各执壹份，</text><text x="267" y="3552">代理人保留壹份，本合同双方签字、盖手印后</text><text x="267" y="3569">生效。</text></g>
<g id="n6-4" class="b"><rect x="586" y="3607" width="248" height="31"/><text x="593" y="3627">甲方(签字)：电话：乙方(签字)：电话：</text></g>
<g id="n6-5" class="b"><rect x="780" y="3665" width="54" height="31"/><text x="787" y="3685">电话：</text></g>
<g id="n6-5-1" class="b"><rect x="670" y="3665" width="87" height="31"/><text x="677" y="3685">XX年X月X日</text></g>
</svg>
